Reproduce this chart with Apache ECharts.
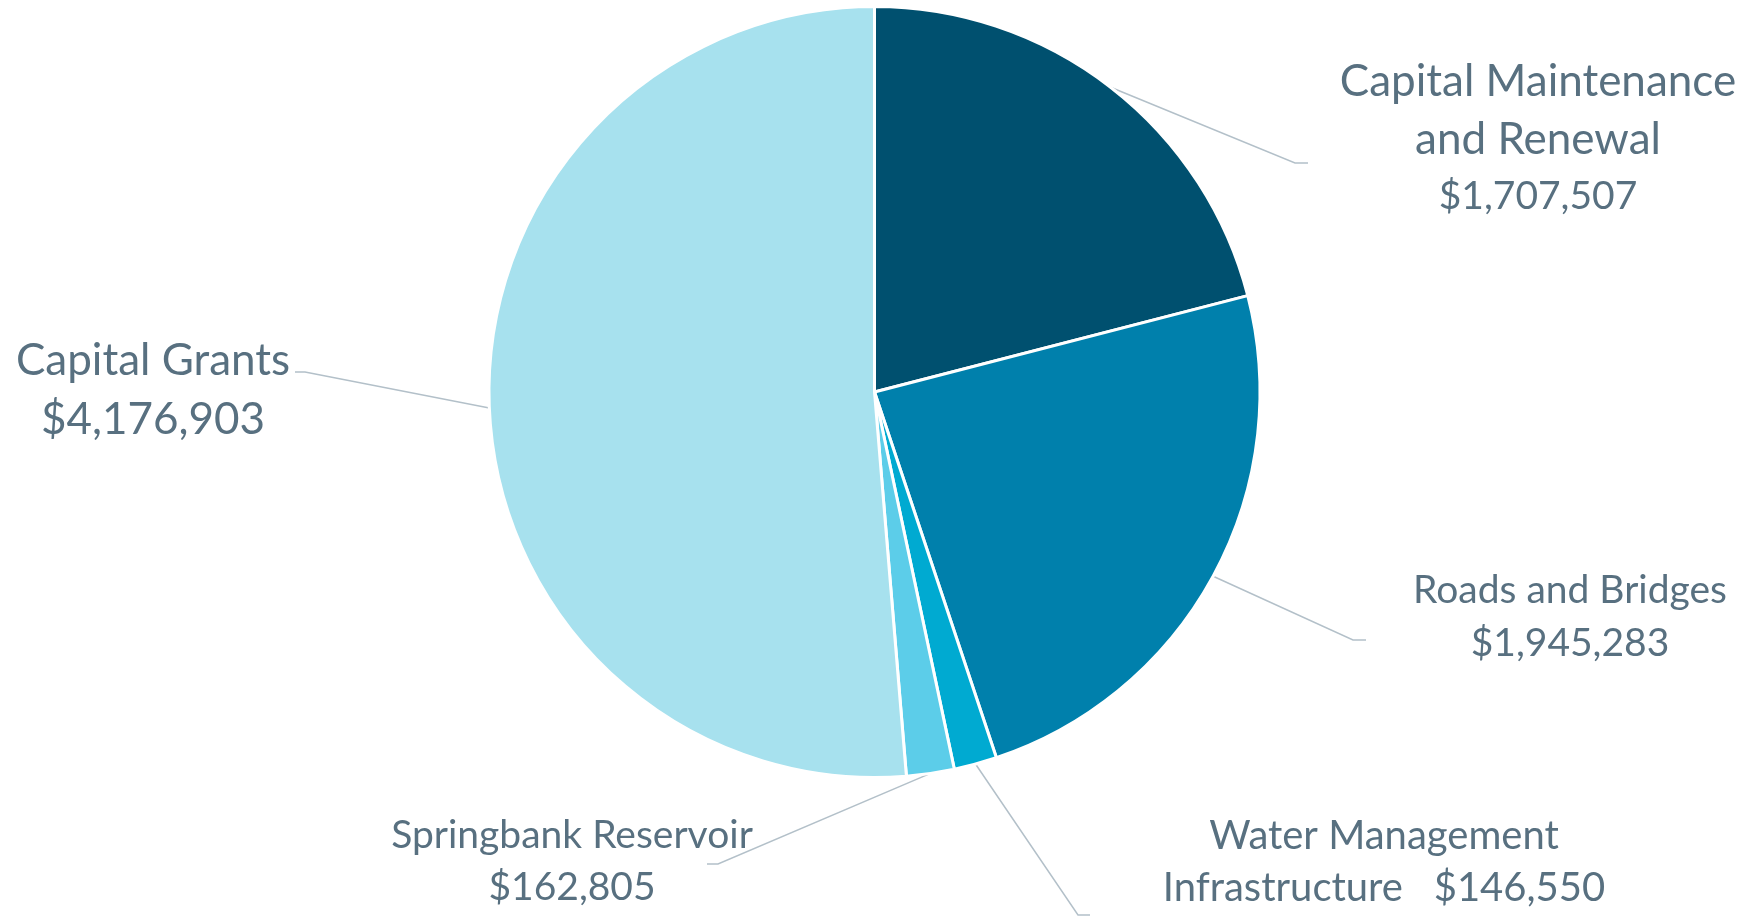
<!DOCTYPE html>
<html><head><meta charset="utf-8">
<script src="https://cdn.jsdelivr.net/npm/echarts@6/dist/echarts.min.js"></script>
<style>html,body{margin:0;padding:0;background:#fff}#c{width:1748px;height:917px}</style>
</head><body><div id="c"></div>
<script>
// ---- data ----
const categories = ['Capital Maintenance\nand Renewal', 'Roads and Bridges', 'Water Management\nInfrastructure', 'Springbank Reservoir', 'Capital Grants'];
const values = [1707507, 1945283, 146550, 162805, 4176903];
const sliceColors = ['#00506f', '#0080ac', '#00aad1', '#5ccde9', '#a7e1ee'];

// ---- label layout (styling / placement only) ----
const labelSeparators = ['\n', '\n', '   ', '\n', '\n'];
const labelCenters = [[1538, 138], [1570, 617], [1384, 862], [572, 861.5], [153, 390.5]];
const labelElbows = [
  [[1295, 163], [1308, 163]],
  [[1353, 640], [1366, 640]],
  [[1078, 915], [1090, 915]],
  [[718, 864], [707, 864]],
  [[305, 372], [295, 372]]
];
const labelFontSizes = [44, 39, 40, 39, 44];
const labelLineHeights = [58, 53, 52.5, 52.5, 59];
const valueFontSizes = [39, 39, 40, 39, 44];
const valueLineHeights = [55, 53, 52.5, 52.5, 59];
const textColor = '#587080';

function fmt(v) { return '$' + v.toLocaleString('en-US'); }

const chart = echarts.init(document.getElementById('c'), null, { renderer: 'canvas' });
chart.setOption({
  backgroundColor: '#ffffff',
  animation: false,
  series: [{
    type: 'pie',
    center: [874.5, 392],
    radius: 385.5,
    startAngle: 90,
    clockwise: true,
    avoidLabelOverlap: false,
    itemStyle: { borderColor: '#ffffff', borderWidth: 3 },
    label: {
      show: true,
      position: 'outside',
      color: textColor,
      fontFamily: 'Lato',
      align: 'center',
      formatter: function (p) { return p.name + labelSeparators[p.dataIndex] + '{v|' + fmt(p.value) + '}'; }
    },
    labelLine: { show: true, smooth: false, length: 20, length2: 10, lineStyle: { color: '#b3c0c9', width: 1.5 } },
    labelLayout: function (params) {
      const i = params.dataIndex;
      const p0 = params.labelLinePoints ? params.labelLinePoints[0] : null;
      const res = { x: labelCenters[i][0], y: labelCenters[i][1], align: 'center', verticalAlign: 'middle' };
      if (p0) res.labelLinePoints = [p0, labelElbows[i][0], labelElbows[i][1]];
      return res;
    },
    emphasis: { disabled: true },
    data: categories.map(function (name, i) {
      return {
        name: name,
        value: values[i],
        itemStyle: { color: sliceColors[i] },
        label: {
          fontSize: labelFontSizes[i],
          lineHeight: labelLineHeights[i],
          rich: { v: { fontSize: valueFontSizes[i], lineHeight: valueLineHeights[i], color: textColor, fontFamily: 'Lato' } }
        }
      };
    })
  }]
});
</script></body></html>
